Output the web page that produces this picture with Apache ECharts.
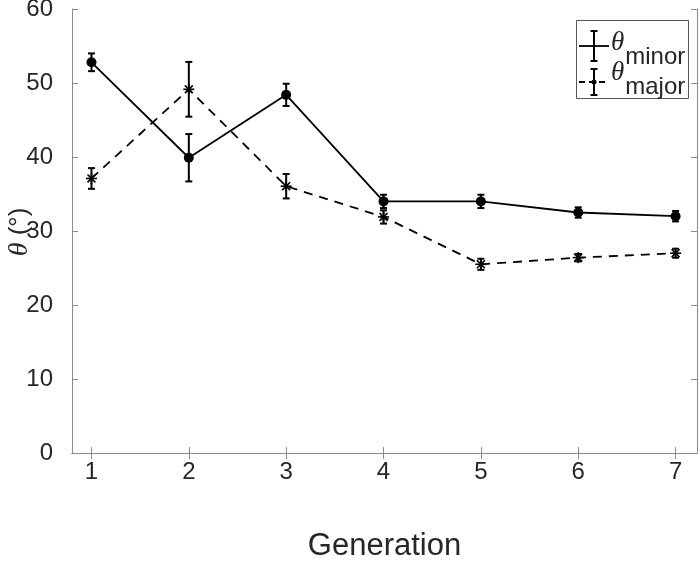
<!DOCTYPE html>
<html>
<head>
<meta charset="utf-8">
<script src="https://cdn.jsdelivr.net/npm/echarts@6/dist/echarts.min.js"></script>
<style>html,body{margin:0;padding:0;background:#fff}#c{width:700px;height:565px}</style>
</head>
<body>
<div id="c"></div>
<script>
const generations = [1, 2, 3, 4, 5, 6, 7];
const xTicks = [1, 2, 3, 4, 5, 6, 7];
const yTicks = [0, 10, 20, 30, 40, 50, 60];
const thetaMinor = [52.8, 39.9, 48.4, 34.0, 34.0, 32.5, 32.0];
const thetaMinorErr = [1.2, 3.2, 1.5, 0.9, 0.9, 0.7, 0.7];
const thetaMajor = [37.1, 49.15, 36.05, 31.9, 25.5, 26.4, 27.0];
const thetaMajorErr = [1.4, 3.7, 1.65, 0.9, 0.75, 0.5, 0.6];

const minorData = generations.map((g, i) => [g, thetaMinor[i], thetaMinorErr[i]]);
const majorData = generations.map((g, i) => [g, thetaMajor[i], thetaMajorErr[i]]);

const FONT = '"Liberation Sans", Arial, sans-serif';
const SERIF = '"Liberation Serif", "DejaVu Serif", serif';
const AX = '#8c8c8c';
const TXT = '#262626';

function errRender(params, api) {
  const x = api.value(0), y = api.value(1), e = api.value(2);
  const top = api.coord([x, y + e]);
  const bot = api.coord([x, y - e]);
  const cw = 3.5;
  const st = { stroke: '#000', lineWidth: 2 };
  return {
    type: 'group',
    children: [
      { type: 'line', shape: { x1: top[0], y1: top[1], x2: bot[0], y2: bot[1] }, style: st },
      { type: 'line', shape: { x1: top[0] - cw, y1: top[1], x2: top[0] + cw, y2: top[1] }, style: st },
      { type: 'line', shape: { x1: bot[0] - cw, y1: bot[1], x2: bot[0] + cw, y2: bot[1] }, style: st }
    ]
  };
}

function starRender(params, api) {
  const c = api.coord([api.value(0), api.value(1)]);
  const r = 5.5, d = r * 0.72;
  const st = { stroke: '#000', lineWidth: 1.6 };
  return {
    type: 'group',
    children: [
      { type: 'line', shape: { x1: c[0] - r, y1: c[1], x2: c[0] + r, y2: c[1] }, style: st },
      { type: 'line', shape: { x1: c[0], y1: c[1] - r, x2: c[0], y2: c[1] + r }, style: st },
      { type: 'line', shape: { x1: c[0] - d, y1: c[1] - d, x2: c[0] + d, y2: c[1] + d }, style: st },
      { type: 'line', shape: { x1: c[0] - d, y1: c[1] + d, x2: c[0] + d, y2: c[1] - d }, style: st }
    ]
  };
}

const chart = echarts.init(document.getElementById('c'), null, { renderer: 'canvas' });

const xCommon = {
  type: 'value', min: 0.8, max: 7.22,
  axisLine: { show: true, lineStyle: { color: AX, width: 1 } },
  splitLine: { show: false }
};
const yCommon = {
  type: 'value', min: 0, max: 60, interval: 10,
  axisLine: { show: true, lineStyle: { color: AX, width: 1 } },
  splitLine: { show: false }
};

chart.setOption({
  animation: false,
  backgroundColor: '#fff',
  grid: { left: 72, right: 3, top: 9, bottom: 112, containLabel: false, outerBoundsMode: 'none' },
  xAxis: [
    Object.assign({}, xCommon, {
      position: 'bottom',
      name: 'Generation', nameLocation: 'middle', nameGap: 78,
      nameTextStyle: { fontFamily: FONT, fontSize: 31, color: TXT },
      axisTick: { show: true, inside: true, length: 6, lineStyle: { color: AX }, customValues: xTicks },
      axisLabel: { show: true, margin: 7, fontFamily: FONT, fontSize: 24, color: TXT, customValues: xTicks }
    }),
    Object.assign({}, xCommon, {
      position: 'top',
      axisTick: { show: true, inside: true, length: 6, lineStyle: { color: AX }, customValues: xTicks },
      axisLabel: { show: false }
    })
  ],
  yAxis: [
    Object.assign({}, yCommon, {
      position: 'left',
      axisTick: { show: true, inside: true, length: 6, lineStyle: { color: AX } },
      axisLabel: { show: true, margin: 19, fontFamily: FONT, fontSize: 24, color: TXT, customValues: yTicks }
    }),
    Object.assign({}, yCommon, {
      position: 'right',
      axisTick: { show: true, inside: true, length: 6, lineStyle: { color: AX } },
      axisLabel: { show: false }
    })
  ],
  series: [
    {
      name: 'θminor', type: 'line', xAxisIndex: 0, yAxisIndex: 0,
      data: minorData.map(d => [d[0], d[1]]),
      lineStyle: { color: '#000', width: 1.8, type: 'solid' },
      symbol: 'circle', symbolSize: 10,
      itemStyle: { color: '#000' }, z: 3
    },
    {
      name: 'θmajor', type: 'line', xAxisIndex: 0, yAxisIndex: 0,
      data: majorData.map(d => [d[0], d[1]]),
      lineStyle: { color: '#000', width: 1.8, type: [9, 7] },
      symbol: 'none', z: 3
    },
    {
      type: 'custom', xAxisIndex: 0, yAxisIndex: 0,
      data: minorData, renderItem: errRender, z: 4,
      encode: { x: 0, y: 1 }
    },
    {
      type: 'custom', xAxisIndex: 0, yAxisIndex: 0,
      data: majorData, renderItem: errRender, z: 4,
      encode: { x: 0, y: 1 }
    },
    {
      type: 'custom', xAxisIndex: 0, yAxisIndex: 0,
      data: majorData, renderItem: starRender, z: 5,
      encode: { x: 0, y: 1 }
    }
  ],
  graphic: [
    // y-axis title
    { type: 'text', x: 20, y: 232, rotation: Math.PI / 2, z: 11,
      style: { text: '{i|θ} (°)', align: 'center', verticalAlign: 'middle',
        rich: {
          i: { fontFamily: SERIF, fontStyle: 'italic', fontSize: 28, fill: TXT },
          n: { fontFamily: FONT, fontSize: 26, fill: TXT }
        }, fontFamily: FONT, fontSize: 26, fill: TXT } },
    { type: 'rect', shape: { x: 576.5, y: 20.5, width: 112, height: 78 },
      style: { fill: '#fff', stroke: '#555', lineWidth: 1 }, z: 10 },
    // entry 1: solid line + error bar
    { type: 'line', shape: { x1: 579, y1: 46, x2: 609, y2: 46 }, style: { stroke: '#000', lineWidth: 1.8 }, z: 11 },
    { type: 'line', shape: { x1: 594, y1: 31, x2: 594, y2: 61 }, style: { stroke: '#000', lineWidth: 2 }, z: 11 },
    { type: 'line', shape: { x1: 590.5, y1: 31, x2: 597.5, y2: 31 }, style: { stroke: '#000', lineWidth: 2 }, z: 11 },
    { type: 'line', shape: { x1: 590.5, y1: 61, x2: 597.5, y2: 61 }, style: { stroke: '#000', lineWidth: 2 }, z: 11 },
    { type: 'text', x: 611, y: 50, z: 11,
      style: { text: '{i|θ}{s|minor}', verticalAlign: 'middle',
        rich: {
          i: { fontFamily: SERIF, fontStyle: 'italic', fontSize: 27, fill: TXT, padding: [0, 1, 14, 0] },
          s: { fontFamily: FONT, fontSize: 24, fill: TXT, padding: [14, 0, 0, 0] }
        } } },
    // entry 2: dashed line + dot + error bar
    { type: 'line', shape: { x1: 579, y1: 82, x2: 609, y2: 82 }, style: { stroke: '#000', lineWidth: 1.8, lineDash: [6, 4] }, z: 11 },
    { type: 'line', shape: { x1: 594, y1: 69, x2: 594, y2: 95 }, style: { stroke: '#000', lineWidth: 2 }, z: 11 },
    { type: 'line', shape: { x1: 590.5, y1: 69, x2: 597.5, y2: 69 }, style: { stroke: '#000', lineWidth: 2 }, z: 11 },
    { type: 'line', shape: { x1: 590.5, y1: 95, x2: 597.5, y2: 95 }, style: { stroke: '#000', lineWidth: 2 }, z: 11 },
    { type: 'circle', shape: { cx: 594, cy: 82, r: 2.5 }, style: { fill: '#000' }, z: 12 },
    { type: 'text', x: 611, y: 80, z: 11,
      style: { text: '{i|θ}{s|major}', verticalAlign: 'middle',
        rich: {
          i: { fontFamily: SERIF, fontStyle: 'italic', fontSize: 27, fill: TXT, padding: [0, 1, 14, 0] },
          s: { fontFamily: FONT, fontSize: 24, fill: TXT, padding: [14, 0, 0, 0] }
        } } }
  ]
});
</script>
</body>
</html>
